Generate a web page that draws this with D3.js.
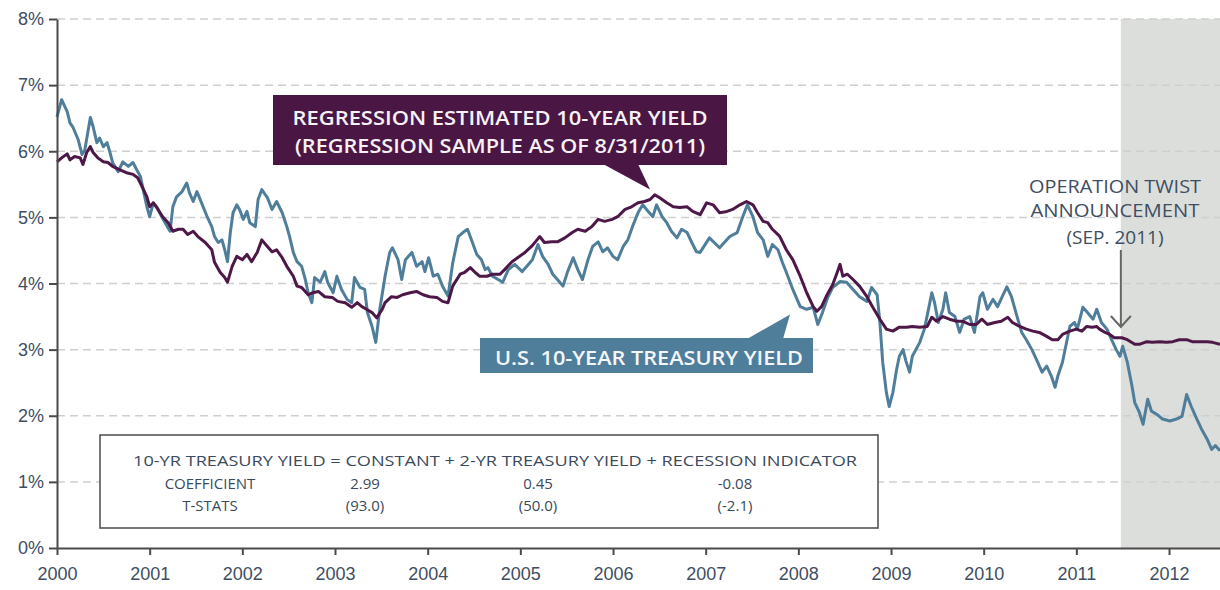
<!DOCTYPE html>
<html>
<head>
<meta charset="utf-8">
<script src="https://cdn.jsdelivr.net/npm/d3@7/dist/d3.min.js"></script>
<style>
  body { margin: 0; background: #fff; }
  svg { display: block; font-family: "Open Sans", "DejaVu Sans", sans-serif; }
  .axis text { fill: #3e4e62; font-size: 18px; }
  .axis .domain, .axis .tick line { stroke: #4a4a4a; stroke-width: 2; }
  .grid { stroke: #cfcfcf; stroke-width: 1.5; stroke-dasharray: 8 5; }
</style>
</head>
<body>
<svg id="chart" width="1220" height="590"></svg>
<script>
// U.S. 10-year treasury yield (%)
const treasuryDates = [
  2000.00, 2000.05, 2000.11, 2000.14, 2000.17, 2000.23, 2000.27, 2000.30, 2000.36, 2000.39,
  2000.43, 2000.46, 2000.50, 2000.54, 2000.57, 2000.60, 2000.66, 2000.71, 2000.77, 2000.82,
  2000.86, 2000.90, 2000.93, 2000.97, 2001.00, 2001.04, 2001.08, 2001.13, 2001.19, 2001.22,
  2001.25, 2001.29, 2001.35, 2001.40, 2001.43, 2001.47, 2001.51, 2001.56, 2001.62, 2001.67,
  2001.70, 2001.74, 2001.78, 2001.81, 2001.84, 2001.87, 2001.90, 2001.94, 2001.97, 2002.01,
  2002.05, 2002.08, 2002.14, 2002.17, 2002.21, 2002.27, 2002.32, 2002.37, 2002.43, 2002.48,
  2002.51, 2002.55, 2002.59, 2002.64, 2002.68, 2002.71, 2002.75, 2002.78, 2002.84, 2002.89,
  2002.92, 2002.98, 2003.02, 2003.07, 2003.13, 2003.18, 2003.21, 2003.27, 2003.32, 2003.35,
  2003.40, 2003.44, 2003.48, 2003.54, 2003.59, 2003.62, 2003.68, 2003.72, 2003.76, 2003.83,
  2003.88, 2003.94, 2003.97, 2004.01, 2004.06, 2004.11, 2004.16, 2004.22, 2004.27, 2004.33,
  2004.38, 2004.43, 2004.48, 2004.53, 2004.58, 2004.62, 2004.65, 2004.70, 2004.76, 2004.81,
  2004.87, 2004.94, 2005.02, 2005.07, 2005.13, 2005.19, 2005.24, 2005.30, 2005.35, 2005.40,
  2005.46, 2005.51, 2005.57, 2005.62, 2005.67, 2005.73, 2005.78, 2005.84, 2005.89, 2005.94,
  2006.00, 2006.05, 2006.11, 2006.16, 2006.21, 2006.27, 2006.32, 2006.38, 2006.43, 2006.47,
  2006.53, 2006.58, 2006.63, 2006.69, 2006.74, 2006.80, 2006.85, 2006.90, 2006.94, 2007.04,
  2007.15, 2007.26, 2007.34, 2007.40, 2007.45, 2007.51, 2007.56, 2007.62, 2007.67, 2007.72,
  2007.78, 2007.83, 2007.87, 2007.94, 2008.02, 2008.09, 2008.16, 2008.21, 2008.26, 2008.32,
  2008.37, 2008.45, 2008.52, 2008.59, 2008.66, 2008.74, 2008.79, 2008.85, 2008.88, 2008.91,
  2008.95, 2008.98, 2009.02, 2009.06, 2009.09, 2009.13, 2009.16, 2009.20, 2009.23, 2009.31,
  2009.36, 2009.41, 2009.44, 2009.47, 2009.51, 2009.56, 2009.59, 2009.63, 2009.69, 2009.74,
  2009.79, 2009.85, 2009.90, 2009.96, 2009.99, 2010.04, 2010.10, 2010.15, 2010.20, 2010.25,
  2010.30, 2010.36, 2010.41, 2010.46, 2010.52, 2010.57, 2010.63, 2010.68, 2010.73, 2010.77,
  2010.80, 2010.85, 2010.90, 2010.93, 2010.98, 2011.01, 2011.07, 2011.12, 2011.18, 2011.22,
  2011.27, 2011.33, 2011.38, 2011.43, 2011.47, 2011.50, 2011.55, 2011.60, 2011.63, 2011.68,
  2011.72, 2011.77, 2011.81, 2011.87, 2011.93, 2012.01, 2012.08, 2012.14, 2012.19, 2012.24,
  2012.30, 2012.35, 2012.41, 2012.46, 2012.50, 2012.55
];
const treasuryYield = [
  6.52, 6.78, 6.60, 6.43, 6.37, 6.17, 5.95, 6.02, 6.51, 6.37,
  6.13, 6.20, 6.07, 6.13, 5.99, 5.83, 5.69, 5.84, 5.77, 5.83,
  5.72, 5.62, 5.42, 5.16, 5.01, 5.22, 5.15, 5.01, 4.86, 4.79,
  5.16, 5.31, 5.39, 5.52, 5.37, 5.24, 5.39, 5.22, 5.01, 4.86,
  4.71, 4.62, 4.66, 4.51, 4.33, 4.77, 5.07, 5.19, 5.12, 4.97,
  5.09, 4.92, 4.86, 5.27, 5.42, 5.30, 5.12, 5.24, 5.07, 4.86,
  4.71, 4.47, 4.33, 4.26, 4.06, 3.86, 3.71, 4.09, 4.02, 4.18,
  4.02, 3.86, 4.11, 3.91, 3.76, 3.71, 4.09, 3.94, 3.91, 3.56,
  3.35, 3.11, 3.58, 4.11, 4.47, 4.54, 4.36, 4.06, 4.36, 4.47,
  4.26, 4.33, 4.18, 4.39, 4.11, 4.14, 3.96, 3.81, 4.31, 4.71,
  4.77, 4.82, 4.63, 4.44, 4.36, 4.21, 4.24, 4.11, 4.06, 4.02,
  4.21, 4.29, 4.18, 4.26, 4.36, 4.59, 4.41, 4.29, 4.14, 4.06,
  3.96, 4.18, 4.39, 4.21, 4.06, 4.36, 4.56, 4.63, 4.48, 4.54,
  4.41, 4.36, 4.56, 4.66, 4.86, 5.07, 5.19, 5.09, 5.01, 5.19,
  5.01, 4.92, 4.79, 4.69, 4.82, 4.77, 4.62, 4.48, 4.47, 4.69,
  4.54, 4.71, 4.77, 5.01, 5.19, 5.01, 4.77, 4.66, 4.41, 4.59,
  4.51, 4.31, 4.17, 3.91, 3.65, 3.61, 3.64, 3.38, 3.56, 3.80,
  3.94, 4.03, 4.02, 3.91, 3.80, 3.73, 3.94, 3.83, 3.41, 2.81,
  2.35, 2.14, 2.35, 2.70, 2.90, 3.00, 2.83, 2.66, 2.90, 3.11,
  3.31, 3.65, 3.86, 3.71, 3.41, 3.61, 3.86, 3.56, 3.50, 3.26,
  3.46, 3.50, 3.26, 3.80, 3.86, 3.61, 3.76, 3.65, 3.80, 3.95,
  3.80, 3.50, 3.26, 3.15, 3.00, 2.85, 2.66, 2.75, 2.60, 2.43,
  2.60, 2.81, 3.15, 3.35, 3.41, 3.31, 3.64, 3.56, 3.46, 3.61,
  3.41, 3.31, 3.15, 3.00, 2.90, 3.05, 2.81, 2.45, 2.20, 2.05,
  1.87, 2.25, 2.07, 2.02, 1.95, 1.92, 1.95, 1.99, 2.32, 2.14,
  1.95, 1.80, 1.65, 1.49, 1.55, 1.47
];

// regression estimated 10-year yield (%)
const regressionDates = [
  2000.00, 2000.05, 2000.11, 2000.14, 2000.19, 2000.25, 2000.28, 2000.32, 2000.36, 2000.39,
  2000.44, 2000.50, 2000.55, 2000.60, 2000.68, 2000.76, 2000.82, 2000.87, 2000.92, 2000.97,
  2001.00, 2001.04, 2001.09, 2001.14, 2001.20, 2001.25, 2001.31, 2001.36, 2001.41, 2001.47,
  2001.52, 2001.60, 2001.67, 2001.70, 2001.76, 2001.81, 2001.84, 2001.89, 2001.94, 2002.00,
  2002.05, 2002.10, 2002.16, 2002.21, 2002.27, 2002.32, 2002.37, 2002.43, 2002.48, 2002.55,
  2002.59, 2002.64, 2002.71, 2002.76, 2002.82, 2002.89, 2002.97, 2003.03, 2003.11, 2003.18,
  2003.24, 2003.29, 2003.34, 2003.40, 2003.45, 2003.51, 2003.54, 2003.61, 2003.67, 2003.73,
  2003.81, 2003.88, 2003.95, 2004.02, 2004.10, 2004.16, 2004.22, 2004.27, 2004.35, 2004.40,
  2004.46, 2004.51, 2004.56, 2004.64, 2004.70, 2004.78, 2004.83, 2004.91, 2004.97, 2005.05,
  2005.12, 2005.18, 2005.21, 2005.26, 2005.34, 2005.40, 2005.48, 2005.56, 2005.62, 2005.70,
  2005.77, 2005.84, 2005.91, 2005.99, 2006.05, 2006.13, 2006.20, 2006.27, 2006.34, 2006.40,
  2006.45, 2006.50, 2006.58, 2006.65, 2006.72, 2006.80, 2006.86, 2006.94, 2007.01, 2007.08,
  2007.15, 2007.23, 2007.29, 2007.37, 2007.44, 2007.51, 2007.56, 2007.62, 2007.67, 2007.72,
  2007.78, 2007.80, 2007.87, 2007.94, 2008.02, 2008.09, 2008.16, 2008.20, 2008.25, 2008.31,
  2008.37, 2008.42, 2008.45, 2008.48, 2008.53, 2008.59, 2008.66, 2008.74, 2008.80, 2008.88,
  2008.95, 2009.02, 2009.09, 2009.17, 2009.23, 2009.31, 2009.39, 2009.44, 2009.49, 2009.56,
  2009.63, 2009.71, 2009.77, 2009.85, 2009.92, 2009.98, 2010.04, 2010.12, 2010.19, 2010.26,
  2010.31, 2010.39, 2010.46, 2010.53, 2010.60, 2010.68, 2010.74, 2010.80, 2010.85, 2010.93,
  2011.00, 2011.06, 2011.11, 2011.17, 2011.22, 2011.25, 2011.31, 2011.36, 2011.41, 2011.49,
  2011.55, 2011.63, 2011.68, 2011.76, 2011.82, 2011.90, 2011.97, 2012.04, 2012.11, 2012.19,
  2012.25, 2012.33, 2012.41, 2012.47, 2012.55
];
const regressionYield = [
  5.84, 5.90, 5.96, 5.87, 5.92, 5.90, 5.80, 5.98, 6.07, 5.98,
  5.90, 5.84, 5.83, 5.77, 5.72, 5.67, 5.65, 5.60, 5.46, 5.31,
  5.16, 5.22, 5.12, 5.01, 4.92, 4.79, 4.82, 4.82, 4.74, 4.79,
  4.71, 4.62, 4.51, 4.32, 4.17, 4.09, 4.02, 4.26, 4.41, 4.36,
  4.44, 4.33, 4.47, 4.66, 4.56, 4.48, 4.51, 4.39, 4.26, 4.11,
  3.96, 3.94, 3.83, 3.86, 3.88, 3.80, 3.79, 3.73, 3.71, 3.64,
  3.71, 3.65, 3.61, 3.56, 3.48, 3.61, 3.71, 3.80, 3.79, 3.83,
  3.86, 3.88, 3.83, 3.80, 3.79, 3.73, 3.71, 3.96, 4.14, 4.17,
  4.24, 4.17, 4.11, 4.11, 4.14, 4.14, 4.21, 4.33, 4.39, 4.47,
  4.56, 4.66, 4.71, 4.62, 4.63, 4.63, 4.69, 4.77, 4.82, 4.79,
  4.86, 4.97, 4.94, 4.97, 5.01, 5.12, 5.16, 5.22, 5.24, 5.27,
  5.34, 5.30, 5.22, 5.16, 5.15, 5.16, 5.09, 5.04, 5.22, 5.19,
  5.07, 5.09, 5.12, 5.19, 5.24, 5.19, 5.07, 4.94, 4.92, 4.82,
  4.74, 4.71, 4.51, 4.36, 4.11, 3.86, 3.65, 3.58, 3.65, 3.83,
  3.98, 4.17, 4.29, 4.11, 4.14, 4.06, 3.96, 3.80, 3.65, 3.46,
  3.31, 3.28, 3.34, 3.34, 3.35, 3.34, 3.35, 3.49, 3.43, 3.50,
  3.46, 3.43, 3.43, 3.38, 3.38, 3.46, 3.38, 3.41, 3.43, 3.49,
  3.41, 3.35, 3.31, 3.28, 3.26, 3.20, 3.15, 3.15, 3.23, 3.28,
  3.31, 3.28, 3.35, 3.34, 3.35, 3.31, 3.26, 3.23, 3.18, 3.18,
  3.15, 3.08, 3.08, 3.12, 3.11, 3.12, 3.11, 3.12, 3.15, 3.15,
  3.12, 3.12, 3.12, 3.11, 3.08
];

const yTicks = [0, 1, 2, 3, 4, 5, 6, 7, 8];
const xTicks = [2000, 2001, 2002, 2003, 2004, 2005, 2006, 2007, 2008, 2009, 2010, 2011, 2012];
const twistDate = 2011.48;

const regressionLabel = ["REGRESSION ESTIMATED 10-YEAR YIELD", "(REGRESSION SAMPLE AS OF 8/31/2011)"];
const treasuryLabel = "U.S. 10-YEAR TREASURY YIELD";
const twistLabel = ["OPERATION TWIST", "ANNOUNCEMENT", "(SEP. 2011)"];
const tableHeader = "10-YR TREASURY YIELD = CONSTANT + 2-YR TREASURY YIELD + RECESSION INDICATOR";
const tableRowNames = ["COEFFICIENT", "T-STATS"];
const coefficients = ["2.99", "0.45", "-0.08"];
const tStats = ["(93.0)", "(50.0)", "(-2.1)"];

const width = 1220;
const height = 590;
const margin = { top: 19, right: 0, bottom: 42, left: 57 };

const svg = d3.select("#chart");

const xScale = d3.scaleLinear().domain([2000, 2012.55]).range([margin.left, width - margin.right]);
const yScale = d3.scaleLinear().domain([0, 8]).range([height - margin.bottom, margin.top]);

// shaded period after the announcement
svg.append("rect")
  .attr("x", xScale(twistDate))
  .attr("y", yScale(8))
  .attr("width", xScale(2012.55) - xScale(twistDate))
  .attr("height", yScale(0) - yScale(8))
  .attr("fill", "#dcdedb");

// dashed gridlines
svg.append("g")
  .selectAll("line")
  .data(yTicks.filter((d) => d > 0))
  .join("line")
  .attr("class", "grid")
  .attr("x1", margin.left)
  .attr("x2", width)
  .attr("y1", (d) => yScale(d))
  .attr("y2", (d) => yScale(d));

// regression table
const table = svg.append("g");
table.append("rect")
  .attr("x", 100).attr("y", 435)
  .attr("width", 778).attr("height", 93)
  .attr("fill", "#fff")
  .attr("stroke", "#555")
  .attr("stroke-width", 1.6);
table.append("text")
  .attr("x", 495).attr("y", 466)
  .attr("text-anchor", "middle")
  .attr("textLength", 724)
  .attr("lengthAdjust", "spacingAndGlyphs")
  .attr("fill", "#3a4a5c")
  .style("font-size", "15px")
  .text(tableHeader);
const colX = [210, 365, 538, 735];
[[tableRowNames[0], ...coefficients], [tableRowNames[1], ...tStats]].forEach((row, r) => {
  table.selectAll(null)
    .data(row)
    .join("text")
    .attr("x", (d, i) => colX[i])
    .attr("y", 489 + r * 22)
    .attr("text-anchor", "middle")
    .attr("fill", "#3a4a5c")
    .style("font-size", "15px")
    .text((d) => d);
});

// the two series
const line = d3.line()
  .x((d) => xScale(d[0]))
  .y((d) => yScale(d[1]));

svg.append("path")
  .datum(d3.zip(treasuryDates, treasuryYield))
  .attr("fill", "none")
  .attr("stroke", "#4f7e9b")
  .attr("stroke-width", 3)
  .attr("stroke-linejoin", "round")
  .attr("d", line);

svg.append("path")
  .datum(d3.zip(regressionDates, regressionYield))
  .attr("fill", "none")
  .attr("stroke", "#4d1847")
  .attr("stroke-width", 3)
  .attr("stroke-linejoin", "round")
  .attr("d", line);

// axes
const yAxis = d3.axisLeft(yScale)
  .tickValues(yTicks)
  .tickFormat((d) => d + "%")
  .tickSize(8)
  .tickSizeOuter(0)
  .tickPadding(5);
svg.append("g")
  .attr("class", "axis")
  .attr("transform", `translate(${margin.left},0)`)
  .call(yAxis);

const xAxis = d3.axisBottom(xScale)
  .tickValues(xTicks)
  .tickFormat(d3.format("d"))
  .tickSize(7)
  .tickSizeOuter(0)
  .tickPadding(12);
svg.append("g")
  .attr("class", "axis")
  .attr("transform", `translate(0,${yScale(0)})`)
  .call(xAxis);

// regression callout
const regTip = [xScale(2006.40), yScale(5.42)];
svg.append("path")
  .attr("d", `M603,164 L638,164 L${regTip[0]},${regTip[1]} Z`)
  .attr("fill", "#4a1744");
svg.append("rect")
  .attr("x", 273).attr("y", 95)
  .attr("width", 454).attr("height", 70)
  .attr("fill", "#4a1744");
svg.selectAll(null)
  .data(regressionLabel)
  .join("text")
  .attr("x", 500)
  .attr("y", (d, i) => 125 + i * 28)
  .attr("text-anchor", "middle")
  .attr("textLength", (d, i) => (i === 0 ? 415 : 410))
  .attr("lengthAdjust", "spacingAndGlyphs")
  .attr("fill", "#f6f1f5")
  .style("font-size", "20px")
  .style("font-weight", 600)
  .text((d) => d);

// treasury callout
const tsyTip = [xScale(2007.91), yScale(3.53)];
svg.append("path")
  .attr("d", `M747,339 L783,339 L${tsyTip[0]},${tsyTip[1]} Z`)
  .attr("fill", "#4f7e9b");
svg.append("rect")
  .attr("x", 480).attr("y", 338)
  .attr("width", 333).attr("height", 35)
  .attr("fill", "#4f7e9b");
svg.append("text")
  .attr("x", 649).attr("y", 365)
  .attr("text-anchor", "middle")
  .attr("textLength", 308)
  .attr("lengthAdjust", "spacingAndGlyphs")
  .attr("fill", "#f4f6f8")
  .style("font-size", "20px")
  .style("font-weight", 600)
  .text(treasuryLabel);

// operation twist annotation
svg.selectAll(null)
  .data(twistLabel)
  .join("text")
  .attr("x", 1115)
  .attr("y", (d, i) => [193, 217, 244][i])
  .attr("text-anchor", "middle")
  .attr("textLength", (d, i) => [172, 169, 97][i])
  .attr("lengthAdjust", "spacingAndGlyphs")
  .attr("fill", "#3e4e62")
  .style("font-size", "18px")
  .text((d) => d);

const ax = xScale(twistDate);
svg.append("path")
  .attr("d", `M${ax},250 L${ax},327 M${ax - 10},316 L${ax},327 L${ax + 10},316`)
  .attr("fill", "none")
  .attr("stroke", "#666")
  .attr("stroke-width", 2);
</script>
</body>
</html>
